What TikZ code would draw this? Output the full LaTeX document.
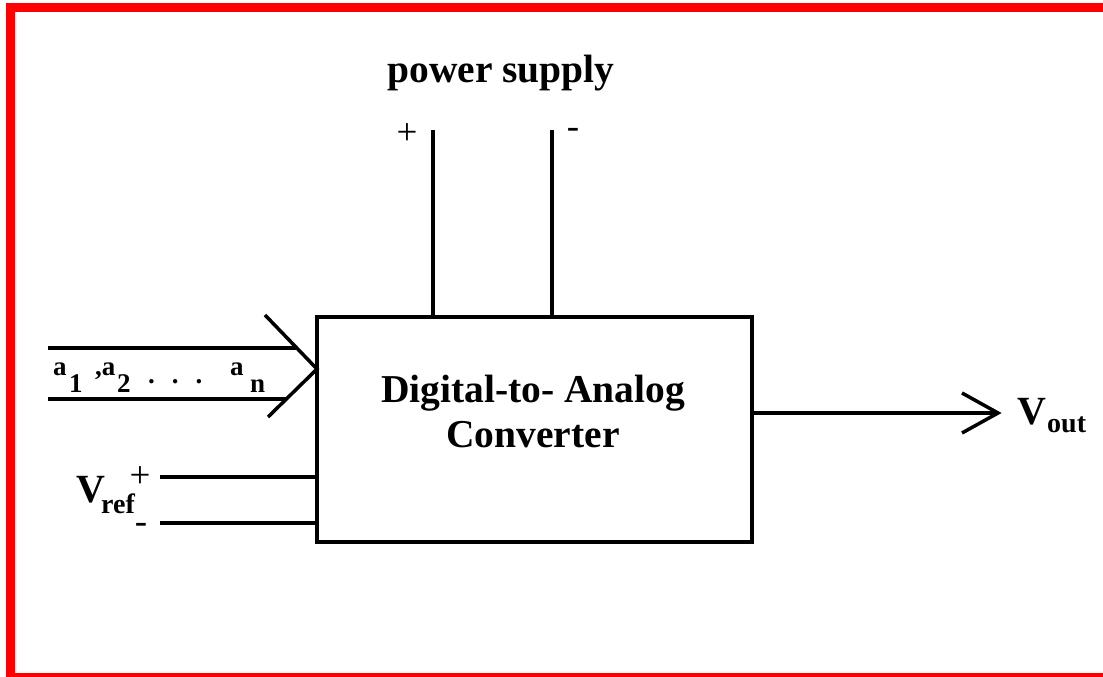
\documentclass[tikz,border=0pt]{standalone}
\usepackage{fontspec}
\setmainfont{Liberation Serif}
\begin{document}
\begin{tikzpicture}[x=1pt,y=-1pt,
  wire/.style={line width=3.5pt,line cap=butt},
  bigtxt/.style={font=\fontsize{39.5}{45}\selectfont\bfseries,inner sep=0pt},
  subtxt/.style={font=\fontsize{28}{30}\selectfont\bfseries,inner sep=0pt},
  atxt/.style={font=\fontsize{27}{30}\selectfont\bfseries,inner sep=0pt,anchor=base west},
  signtxt/.style={font=\fontsize{37}{40}\selectfont,inner sep=0pt}]
\useasboundingbox (0,0) rectangle (1103,677);
% red frame
\fill[red] (6,3) rectangle (1103,12);
\fill[red] (6,3) rectangle (15,677);
\fill[red] (15,673) rectangle (1103,677);
% box
\node[draw,line width=3.5pt,minimum width=435pt,minimum height=225pt,inner sep=0pt,outer sep=0pt] (dac) at (534.5,429.5) {};
\node[bigtxt,anchor=base,align=center] (dactxt) at (533,447) {Digital-to- Analog\\Converter};
% power supply
\node[bigtxt,anchor=base] (ps) at (501,82) {power supply};
\coordinate (pplus) at (433,130);
\coordinate (pminus) at (552,130);
\draw[wire] (pplus) -- (pplus |- dac.north);
\draw[wire] (pminus) -- (pminus |- dac.north);
\node[signtxt] (psp) at (407,134) {+};
\node[signtxt] (psm) at (573,133) {-};
% output
\coordinate (vo) at (998,413);
\draw[wire] (dac.east |- vo) -- (vo);
\draw[wire,line join=miter] (vo) ++(-36,-20) -- (vo) -- ++(-36,20);
\node[bigtxt,anchor=base west,font=\fontsize{40}{44}\selectfont\bfseries] (vout) at (1017,424) {V};
\node[subtxt,anchor=base west] (voutsub) at (1047,432) {out};
% input bus
\coordinate (btip) at (dac.west |- 0,369);
\coordinate (bu) at (48,348);
\coordinate (bl) at (48,399);
\draw[wire] (bu) -- (297,348);
\draw[wire] (bl) -- (286,399);
\draw[wire,line join=miter] (265,315) -- (btip) -- (268,417);
\node[atxt] (la1) at (53,375) {a};
\node[atxt] (l1) at (69,392) {1};
\node[atxt] (la2) at (95,375) {,a};
\node[atxt] (l2) at (117,392) {2};
\node[atxt] (ldots) at (148,383) {.\hspace{17pt}.\hspace{17pt}.};
\node[atxt] (lan) at (230,375) {a};
\node[atxt] (ln) at (250,392) {n};
% Vref
\coordinate (vrp) at (160,477);
\coordinate (vrm) at (160,523);
\draw[wire] (vrp) -- (vrp -| dac.west);
\draw[wire] (vrm) -- (vrm -| dac.west);
\node[bigtxt,anchor=base west,font=\fontsize{40}{44}\selectfont\bfseries] (vref) at (76,502) {V};
\node[subtxt,anchor=base west] (vrefsub) at (101,513) {ref};
\node[signtxt] (vrefp) at (140,477) {+};
\node[signtxt] (vrefm) at (141,528) {-};
\end{tikzpicture}
\end{document}
